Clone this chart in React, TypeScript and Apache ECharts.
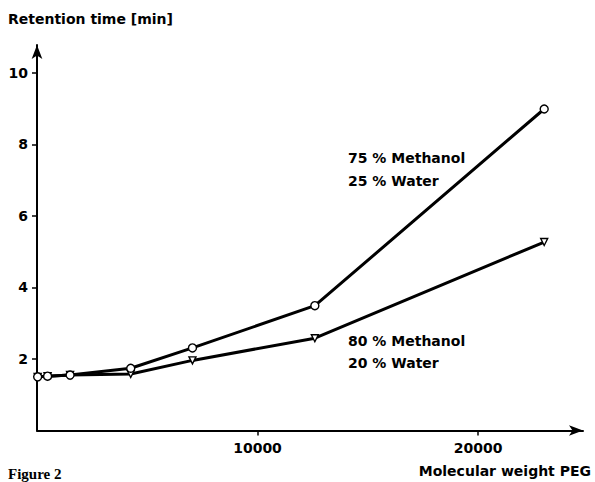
import React, { useEffect, useRef } from "react";
import * as echarts from "echarts";

const molecularWeights = [30, 480, 1500, 4250, 7050, 12600, 23000];
const methanol75 = [1.5, 1.52, 1.55, 1.74, 2.31, 3.49, 8.99];
const methanol80 = [1.5, 1.52, 1.55, 1.58, 1.96, 2.58, 5.27];
const xTicks = [10000, 20000];
const yTicks = [2, 4, 6, 8, 10];

const FONT = "DejaVu Sans";

export default function App() {
  const ref = useRef<HTMLDivElement>(null);
  useEffect(() => {
    if (!ref.current) return;
    const chart = echarts.init(ref.current, undefined, { renderer: "svg" });
    const axisLine = {
      show: true,
      lineStyle: { color: "#000", width: 2 },
      symbol: ["none", "arrow"],
      symbolSize: [8, 14],
    };
    const labelStyle = {
      color: "#000",
      fontFamily: FONT,
      fontWeight: "bold" as const,
      fontSize: 14,
      formatter: (v: number) => String(v),
    };
    const textStyle = (text: string, x: number, y: number, align = "left", extra: any = {}) => ({
      type: "text",
      style: {
        text,
        x,
        y,
        fill: "#000",
        fontFamily: FONT,
        fontWeight: "bold",
        fontSize: 14,
        textAlign: align,
        textVerticalAlign: "middle",
        ...extra,
      },
    });
    chart.setOption({
      animation: false,
      backgroundColor: "#fff",
      grid: { left: 37, top: 45, right: 12, bottom: 51.5, containLabel: false },
      xAxis: {
        type: "value",
        min: 0,
        max: 24760,
        interval: 10000,
        axisLine,
        axisTick: { show: true, customValues: xTicks, length: 5, lineStyle: { color: "#000", width: 1.5 } },
        axisLabel: { ...labelStyle, customValues: xTicks, margin: 10 },
        splitLine: { show: false },
      },
      yAxis: {
        type: "value",
        min: 0,
        max: 10.78,
        interval: 2,
        axisLine,
        axisTick: { show: true, customValues: yTicks, length: 5, lineStyle: { color: "#000", width: 1.5 } },
        axisLabel: { ...labelStyle, customValues: yTicks, margin: 9 },
        splitLine: { show: false },
      },
      series: [
        {
          type: "line",
          name: "80 % Methanol",
          data: molecularWeights.map((x, i) => [x, methanol80[i]]),
          symbol: "triangle",
          symbolRotate: 180,
          symbolSize: 7,
          showAllSymbol: true,
          lineStyle: { color: "#000", width: 3 },
          itemStyle: { color: "#fff", borderColor: "#000", borderWidth: 1.4 },
          z: 2,
        },
        {
          type: "line",
          name: "75 % Methanol",
          data: molecularWeights.map((x, i) => [x, methanol75[i]]),
          symbol: "circle",
          symbolSize: 8,
          showAllSymbol: true,
          lineStyle: { color: "#000", width: 3 },
          itemStyle: { color: "#fff", borderColor: "#000", borderWidth: 1.4 },
          z: 3,
        },
      ],
      graphic: [
        textStyle("Retention time [min]", 8, 19),
        textStyle("Molecular weight PEG", 591, 471, "right"),
        textStyle("75 % Methanol", 348, 158),
        textStyle("25 % Water", 348, 181),
        textStyle("80 % Methanol", 348, 341),
        textStyle("20 % Water", 348, 363),
        textStyle("Figure 2", 8, 481, "left", {
          fontFamily: "Liberation Serif",
          fontSize: 15,
          textVerticalAlign: "bottom",
        }),
      ],
    });
    return () => chart.dispose();
  }, []);
  return (
    <div
      ref={ref}
      style={{ position: "absolute", left: 0, top: 0, width: 595, height: 482 }}
    />
  );
}
